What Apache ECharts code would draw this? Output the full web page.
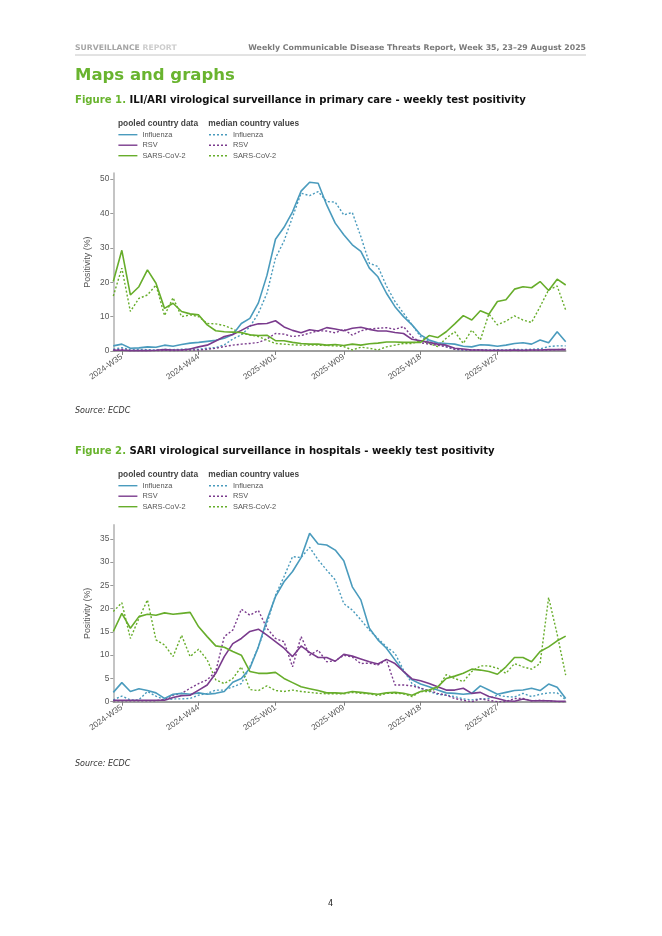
<!DOCTYPE html>
<html><head><meta charset="utf-8">
<script src="https://cdn.jsdelivr.net/npm/echarts@6/dist/echarts.min.js"></script>
<style>html,body{margin:0;padding:0;background:#fff;}#c{width:662px;height:936px;}</style>
</head><body><div id="c"></div>
<script>
// ---- categories (ISO weeks) ----
const weeks = ['2024-W34','2024-W35','2024-W36','2024-W37','2024-W38','2024-W39','2024-W40','2024-W41','2024-W42','2024-W43','2024-W44','2024-W45','2024-W46','2024-W47','2024-W48','2024-W49','2024-W50','2024-W51','2024-W52',
'2025-W01','2025-W02','2025-W03','2025-W04','2025-W05','2025-W06','2025-W07','2025-W08','2025-W09','2025-W10','2025-W11','2025-W12','2025-W13','2025-W14','2025-W15','2025-W16','2025-W17','2025-W18','2025-W19','2025-W20','2025-W21','2025-W22','2025-W23','2025-W24','2025-W25','2025-W26','2025-W27','2025-W28','2025-W29','2025-W30','2025-W31','2025-W32','2025-W33','2025-W34','2025-W35'];
const shownWeeks = ['2024-W35','2024-W44','2025-W01','2025-W09','2025-W18','2025-W27'];
const f1Ticks = [0,10,20,30,40,50];
const f2Ticks = [0,5,10,15,20,25,30,35];

// ---- Figure 1: ILI/ARI primary care ----
const f1FluPooled = [1.5,2.0,0.8,0.9,1.2,1.1,1.7,1.4,1.9,2.3,2.5,2.8,3.1,3.7,4.8,8.0,9.5,14.0,22.0,32.5,36.0,40.5,46.5,49.1,48.8,42.5,37.2,33.8,30.9,29.0,24.1,21.6,16.8,12.9,10.0,7.6,4.7,3.2,2.4,2.2,2.0,1.4,1.2,1.8,1.7,1.4,1.7,2.2,2.4,2.0,3.2,2.4,5.6,2.7];
const f1FluMedian = [0.5,1.0,0.3,0.5,0.4,0.3,0.5,0.4,0.5,0.6,0.5,0.8,1.0,1.8,3.5,4.7,7.0,11.0,16.8,27.0,32.0,39.0,45.9,45.2,46.4,43.5,43.3,39.6,40.3,33.3,25.5,24.6,18.9,14.4,11.0,7.6,4.2,2.7,2.2,1.3,0.5,0.3,0.3,0.4,0.3,0.4,0.3,0.5,0.4,0.5,0.6,1.3,1.5,1.5];
const f1RsvPooled = [0.2,0.2,0.1,0.1,0.1,0.2,0.4,0.3,0.3,0.6,1.2,1.7,2.9,4.2,4.8,6.0,7.3,7.9,8.0,8.8,7.0,6.0,5.3,6.2,5.8,6.8,6.4,5.9,6.6,6.9,6.3,5.8,5.8,5.4,5.1,3.4,3.0,2.5,2.0,1.7,0.8,0.6,0.3,0.3,0.2,0.2,0.2,0.3,0.2,0.3,0.3,0.4,0.4,0.4];
const f1RsvMedian = [0.3,0.5,0.1,0.1,0.1,0.1,0.2,0.1,0.2,0.3,0.3,0.5,0.8,1.3,1.7,2.0,2.2,2.5,3.5,5.1,4.9,4.2,4.5,5.2,5.9,5.8,5.3,6.3,4.6,5.9,6.4,6.6,6.8,6.3,7.1,4.2,2.4,2.0,1.7,1.2,0.5,0.3,0.2,0.2,0.1,0.1,0.1,0.2,0.1,0.2,0.2,0.3,0.4,0.6];
const f1CovPooled = [20.2,29.3,16.3,18.7,23.6,19.7,12.4,13.9,11.5,10.8,10.5,7.6,5.9,5.6,5.5,5.4,4.7,4.5,4.6,3.0,3.0,2.5,2.2,2.0,2.0,1.7,1.9,1.6,2.0,1.7,2.1,2.3,2.6,2.6,2.5,2.5,2.5,4.5,3.9,5.6,7.9,10.3,9.0,11.7,10.7,14.4,14.9,18.0,18.7,18.4,20.2,17.6,20.9,19.2];
const f1CovMedian = [16.0,24.1,11.5,15.3,16.3,19.2,10.3,15.5,10.0,10.5,10.0,8.0,7.9,7.4,6.4,5.1,4.7,4.2,3.2,2.2,2.0,1.8,1.7,1.7,1.7,1.6,1.5,1.3,0.3,1.1,0.8,0.3,1.2,1.7,2.2,2.2,3.0,2.2,1.3,3.7,5.6,2.2,6.1,3.2,10.8,7.6,8.7,10.2,9.0,8.3,12.9,17.8,18.9,11.9];

// ---- Figure 2: SARI hospitals ----
const f2FluPooled = [2.0,4.1,2.2,2.8,2.4,1.9,0.7,1.6,1.8,1.6,1.9,1.6,1.8,2.2,4.2,5.0,7.2,11.8,17.6,22.6,25.8,28.0,31.0,36.2,33.9,33.7,32.6,30.3,24.7,21.9,15.8,13.3,11.5,9.0,6.5,4.7,3.8,3.2,2.5,1.9,1.8,1.6,1.8,3.4,2.5,1.6,2.0,2.4,2.5,2.9,2.4,3.8,3.1,0.7];
const f2FluMedian = [0.4,1.2,0.4,0.4,2.2,1.2,0.4,0.6,0.6,0.7,1.4,1.8,2.5,2.5,3.2,3.9,7.5,11.8,16.8,22.9,26.9,31.2,31.0,33.2,30.5,28.3,26.2,21.1,19.7,17.6,15.4,13.6,11.8,10.4,6.8,3.9,2.9,2.2,1.6,1.4,1.1,0.6,0.4,0.6,0.7,1.4,1.1,1.0,1.8,1.1,1.6,1.9,1.9,0.4];
const f2RsvPooled = [0.3,0.3,0.3,0.3,0.3,0.3,0.3,0.9,1.3,1.4,2.5,3.6,6.1,9.7,12.5,13.6,15.1,15.6,14.3,12.9,11.5,9.7,12.0,10.6,9.5,9.5,8.7,10.2,9.8,9.2,8.6,8.1,9.1,8.2,6.5,4.9,4.5,3.9,3.2,2.5,2.5,2.9,1.8,2.0,1.1,0.7,0.2,0.1,0.6,0.2,0.2,0.2,0.1,0.1];
const f2RsvMedian = [0.2,0.2,0.2,0.2,0.2,0.2,0.5,1.4,1.8,2.9,3.9,4.7,6.5,14.0,15.4,19.9,18.6,19.6,15.8,13.6,12.9,7.5,14.0,10.0,11.1,8.6,8.8,10.0,9.6,8.2,8.3,7.9,9.0,3.6,3.6,3.4,2.9,2.4,1.8,1.4,0.7,0.3,0.0,0.6,0.3,0.0,0.0,0.7,0.7,0.2,0.3,0.2,0.0,0.0];
const f2CovPooled = [15.1,19.0,15.8,18.3,18.8,18.6,19.1,18.8,19.0,19.2,16.1,14.0,12.0,11.7,10.8,10.0,6.5,6.1,6.1,6.3,5.0,4.1,3.2,2.8,2.4,1.9,1.9,1.8,2.2,2.0,1.8,1.6,1.9,2.0,1.8,1.4,2.2,2.5,3.2,5.0,5.5,6.1,7.0,6.8,6.5,5.9,7.5,9.5,9.5,8.6,10.8,11.8,13.1,14.1];
const f2CovMedian = [19.4,21.3,13.6,17.9,21.9,13.3,12.2,9.7,14.3,9.7,11.3,9.0,4.7,3.9,5.0,7.5,2.6,2.4,3.4,2.4,2.2,2.5,2.2,2.0,1.8,1.7,1.7,1.7,2.0,1.8,1.7,1.3,1.8,1.8,1.7,1.1,2.2,2.2,2.9,5.8,5.0,4.3,6.5,7.7,7.7,7.2,6.1,8.2,7.5,7.0,8.2,22.4,14.5,5.7];

const C_FLU = '#4a9bbd', C_RSV = '#7a3b8d', C_COV = '#67ad2b';
const GREEN = '#69b42f';
const PAGE_FONT = '"DejaVu Sans", Verdana, sans-serif';
const CHART_FONT = '"Liberation Sans", Arial, sans-serif';

const chart = echarts.init(document.getElementById('c'), null, {renderer:'canvas'});

function grid(top, height){ return {left:113.3, right:96.3, top:top, height:height, containLabel:false}; }
function xAx(gi){
  return {type:'category', gridIndex:gi, data:weeks, boundaryGap:false,
    axisLine:{lineStyle:{color:'#7f7f7f', width:1.5}},
    axisTick:{length:4, lineStyle:{color:'#7f7f7f'}, interval:(i,v)=>shownWeeks.indexOf(v)>=0},
    axisLabel:{rotate:35, margin:5, color:'#555', fontSize:8.3, fontFamily:CHART_FONT, interval:(i,v)=>shownWeeks.indexOf(v)>=0},
    splitLine:{show:false}};
}
function yAx(gi, max, ticks, interval){
  return {type:'value', gridIndex:gi, min:0, max:max, interval:interval,
    name:'Positivity (%)', nameLocation:'middle', nameGap:21, nameRotate:90, nameMoveOverlap:false,
    nameTextStyle:{color:'#555', fontSize:8.9, fontFamily:CHART_FONT},
    axisLine:{show:true, lineStyle:{color:'#c4c4c4', width:2}},
    axisTick:{show:true, length:3, lineStyle:{color:'#999'}, customValues:ticks},
    axisLabel:{color:'#555', fontSize:8.3, fontFamily:CHART_FONT, margin:4, customValues:ticks},
    splitLine:{show:false}};
}
function ser(name, data, color, dotted, gi){
  return {name:name, type:'line', data:data, xAxisIndex:gi, yAxisIndex:gi, symbol:'none', silent:true,
    lineStyle:{color:color, width:dotted?1.4:1.6, type:dotted?[2,2]:'solid'}, itemStyle:{color:color},
    z: dotted?2:3, animation:false};
}
function legend(left, top, tag){
  return {orient:'vertical', left:left, top:top, padding:0, itemGap:2.5, itemWidth:19, itemHeight:10,
    selectedMode:false, data:['Influenza'+tag,'RSV'+tag,'SARS-CoV-2'+tag],
    formatter:n=>n.split('|')[0],
    itemStyle:{opacity:0},
    lineStyle:{width:1.4},
    textStyle:{color:'#555', fontSize:7.4, fontFamily:CHART_FONT, padding:[0,0,0,0]}};
}
function txt(text, left, top, style){ return {text:text, left:left, top:top, padding:0, textStyle:style}; }

const headStyle = {fontFamily:PAGE_FONT, fontSize:7.7, fontWeight:'bold', lineHeight:10,
  rich:{a:{fontFamily:PAGE_FONT, fontSize:7.7, fontWeight:'bold', color:'#a6a6a6', lineHeight:10},
        b:{fontFamily:PAGE_FONT, fontSize:7.7, fontWeight:'bold', color:'#cdcdcd', lineHeight:10}}};
const figStyle = {fontFamily:PAGE_FONT, fontSize:10.1, fontWeight:'bold', lineHeight:12,
  rich:{g:{fontFamily:PAGE_FONT, fontSize:10.1, fontWeight:'bold', color:GREEN, lineHeight:12},
        k:{fontFamily:PAGE_FONT, fontSize:10.1, fontWeight:'bold', color:'#111', lineHeight:12}}};
const srcStyle = {fontFamily:PAGE_FONT, fontSize:8, fontStyle:'italic', fontWeight:'normal', color:'#333', lineHeight:12};
const legHead = {fontFamily:CHART_FONT, fontSize:8.4, fontWeight:'bold', color:'#444', lineHeight:10};

chart.setOption({
  animation:false,
  backgroundColor:'#fff',
  title:[
    txt('{a|SURVEILLANCE} {b|REPORT}', 75, 43, headStyle),
    {text:'Weekly Communicable Disease Threats Report, Week 35, 23\u201329 August 2025', right:76, top:43, padding:0,
      textStyle:{fontFamily:PAGE_FONT, fontSize:7.8, fontWeight:'bold', color:'#7a7a7a', lineHeight:10}},
    txt('Maps and graphs', 75, 66, {fontFamily:PAGE_FONT, fontSize:16.5, fontWeight:'bold', color:GREEN, lineHeight:20}),
    txt('{g|Figure 1.} {k|ILI/ARI virological surveillance in primary care - weekly test positivity}', 75, 94, figStyle),
    txt('pooled country data', 118, 119, legHead),
    txt('median country values', 208.3, 119, legHead),
    txt('Source: ECDC', 75, 405, srcStyle),
    txt('{g|Figure 2.} {k|SARI virological surveillance in hospitals - weekly test positivity}', 75, 445, figStyle),
    txt('pooled country data', 118, 470, legHead),
    txt('median country values', 208.3, 470, legHead),
    txt('Source: ECDC', 75, 758, srcStyle),
    txt('4', 328, 898, {fontFamily:PAGE_FONT, fontSize:8, fontWeight:'normal', color:'#222', lineHeight:12})
  ],
  graphic:[{type:'line', shape:{x1:75, y1:55, x2:586, y2:55}, style:{stroke:'#b8b8b8', lineWidth:0.8}, silent:true}],
  legend:[legend(117.7,130.7,'|p1'), legend(208.3,130.7,'|m1'), legend(117.7,481.7,'|p2'), legend(208.3,481.7,'|m2')],
  grid:[grid(173.3,177.7), grid(525,176.7)],
  xAxis:[xAx(0), xAx(1)],
  yAxis:[yAx(0,51.7,f1Ticks,10), yAx(1,38,f2Ticks,5)],
  series:[
    ser('Influenza|m1', f1FluMedian, C_FLU, true, 0),
    ser('RSV|m1', f1RsvMedian, C_RSV, true, 0),
    ser('SARS-CoV-2|m1', f1CovMedian, C_COV, true, 0),
    ser('Influenza|p1', f1FluPooled, C_FLU, false, 0),
    ser('RSV|p1', f1RsvPooled, C_RSV, false, 0),
    ser('SARS-CoV-2|p1', f1CovPooled, C_COV, false, 0),
    ser('Influenza|m2', f2FluMedian, C_FLU, true, 1),
    ser('RSV|m2', f2RsvMedian, C_RSV, true, 1),
    ser('SARS-CoV-2|m2', f2CovMedian, C_COV, true, 1),
    ser('Influenza|p2', f2FluPooled, C_FLU, false, 1),
    ser('RSV|p2', f2RsvPooled, C_RSV, false, 1),
    ser('SARS-CoV-2|p2', f2CovPooled, C_COV, false, 1)
  ]
});
</script></body></html>
